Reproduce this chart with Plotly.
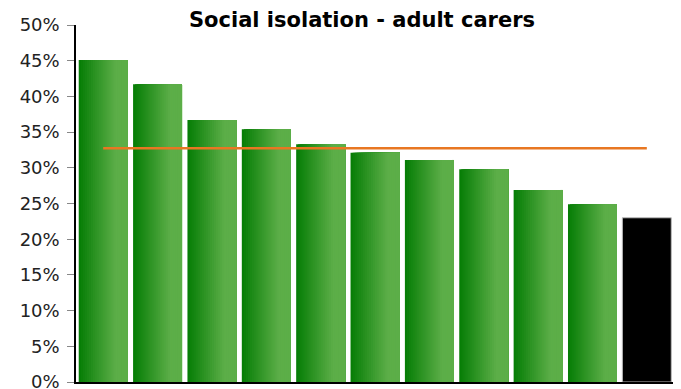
import plotly.graph_objects as go
import numpy as np

categories = [f"Area {i}" for i in range(1, 12)]
values = [45.1, 41.7, 36.7, 35.4, 33.3, 32.1, 31.1, 29.8, 26.9, 24.9, 23.0]
average = [32.75] * 11
tick_vals = [0, 5, 10, 15, 20, 25, 30, 35, 40, 45, 50]
tick_text = [f"{v}%" for v in tick_vals]

fig = go.Figure()

n_strips = 24
bar_w = 0.9
c0 = np.array([5, 125, 5])
c1 = np.array([92, 174, 72])
green_vals = values[:-1] + [None]
for i in range(n_strips):
    t = min(1.0, (i + 0.5) / (n_strips * 0.75))
    c = (c0 + (c1 - c0) * t).astype(int)
    col = f"rgb({c[0]},{c[1]},{c[2]})"
    fig.add_trace(go.Bar(
        x=categories, y=green_vals,
        width=bar_w - i * bar_w / n_strips,
        offset=-bar_w / 2 + i * bar_w / n_strips,
        marker=dict(color=col, line=dict(width=0)),
        showlegend=False, hoverinfo="skip",
    ))

black_vals = [None] * 10 + [values[-1]]
fig.add_trace(go.Bar(
    x=categories, y=black_vals, width=bar_w, offset=-bar_w / 2,
    marker=dict(color="black", line=dict(width=1, color="#bbbbbb")),
    showlegend=False,
))

fig.add_trace(go.Scatter(
    x=categories, y=average, mode="lines",
    line=dict(color="#E87722", width=2.5), showlegend=False,
))

fig.update_layout(
    width=673, height=381,
    margin=dict(l=68, r=7, t=17, b=7, autoexpand=False),
    paper_bgcolor="white", plot_bgcolor="white",
    barmode="overlay",
    title=dict(text="<b>Social isolation - adult carers</b>", x=(362 - 8) / 673, xanchor="center",
               y=1 - (19.5 - 8) / 381, yanchor="middle",
               font=dict(family="DejaVu Sans", size=21, color="black")),
    font=dict(family="DejaVu Sans", size=18, color="#222222"),
    xaxis=dict(showticklabels=False, showgrid=False, zeroline=False,
               showline=True, linecolor="black", linewidth=1.5,
               range=[-0.5, 10.5], ticks="", automargin=False),
    yaxis=dict(range=[0, 50], tickvals=tick_vals, ticktext=tick_text,
               showgrid=False, zeroline=False, showline=True,
               linecolor="black", linewidth=1.5, ticks="outside",
               ticklen=7, tickcolor="#888888", ticklabelstandoff=4,
               ticklabeloverflow="allow", automargin=False),
)

fig.write_html("out.html")
